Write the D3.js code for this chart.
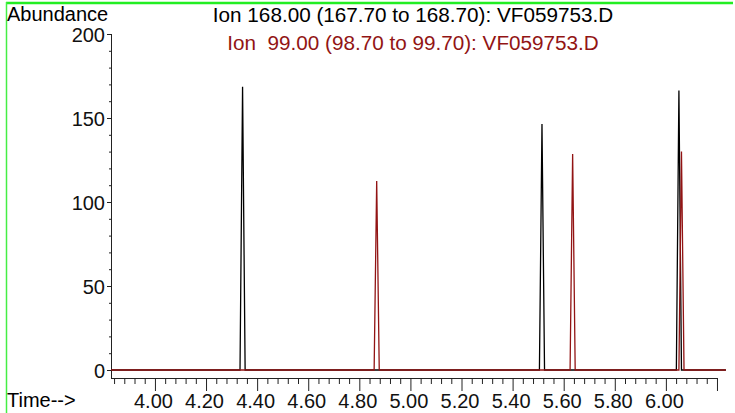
<!DOCTYPE html>
<html>
<head>
<meta charset="utf-8">
<script src="https://cdn.jsdelivr.net/npm/d3@7/dist/d3.min.js"></script>
<style>
  html, body { margin: 0; padding: 0; background: #fff; }
  svg text { font-family: "Liberation Sans", Arial, sans-serif; white-space: pre; }
</style>
</head>
<body>
<svg id="chart" width="735" height="413"></svg>
<script>
// ---- data ----
const ion168Time  = [3.828, 4.333, 4.343, 4.353, 5.505, 5.515, 5.525, 6.041, 6.051, 6.061, 6.235];
const ion168Abund = [0,     0,     168.6, 0,     0,     146.4, 0,     0,     166.3, 0,     0];
const ion99Time   = [3.828, 4.858, 4.868, 4.878, 5.625, 5.635, 5.645, 6.051, 6.061, 6.071, 6.235];
const ion99Abund  = [0,     0,     112.5, 0,     0,     128.6, 0,     0,     130.0, 0,     0];

const xMajorTicks = [4.0, 4.2, 4.4, 4.6, 4.8, 5.0, 5.2, 5.4, 5.6, 5.8, 6.0, 6.2];
const xTickLabels = ["4.00","4.20","4.40","4.60","4.80","5.00","5.20","5.40","5.60","5.80","6.00",""];
const xMinorTicks = [3.84,3.88,3.92,3.96,4.04,4.08,4.12,4.16,4.24,4.28,4.32,4.36,4.44,4.48,4.52,4.56,
                     4.64,4.68,4.72,4.76,4.84,4.88,4.92,4.96,5.04,5.08,5.12,5.16,5.24,5.28,5.32,5.36,
                     5.44,5.48,5.52,5.56,5.64,5.68,5.72,5.76,5.84,5.88,5.92,5.96,6.04,6.08,6.12,6.16];
const yMajorTicks = [0, 50, 100, 150, 200];
const yMinorTicks = [10,20,30,40,60,70,80,90,110,120,130,140,160,170,180,190];

const titleBlack = "Ion 168.00 (167.70 to 168.70): VF059753.D";
const titleRed   = "Ion  99.00 (98.70 to 99.70): VF059753.D";

// ---- layout ----
const svg = d3.select("#chart");
const x = d3.scaleLinear().domain([3.828, 6.204]).range([111, 718]);
const y = d3.scaleLinear().domain([0, 200]).range([370, 34]);
const axisY = 378;
const RED = "#921414";

// green frame
svg.append("line").attr("x1", 6).attr("x2", 733).attr("y1", 3).attr("y2", 3)
  .attr("stroke", "#22ee22").attr("stroke-width", 2.4);
svg.append("line").attr("x1", 6.5).attr("x2", 6.5).attr("y1", 2).attr("y2", 413)
  .attr("stroke", "#44ee44").attr("stroke-width", 1.5);

// x axis
const xMinor = d3.axisBottom(x).tickValues(xMinorTicks).tickSize(6).tickFormat("");
const xMajor = d3.axisBottom(x).tickValues(xMajorTicks).tickSize(13).tickPadding(3)
  .tickFormat((d, i) => xTickLabels[i]);
const gxm = svg.append("g").attr("transform", `translate(0,${axisY})`).call(xMinor);
const gx = svg.append("g").attr("transform", `translate(0,${axisY})`).call(xMajor);
[gxm, gx].forEach(g => {
  g.select(".domain").attr("stroke", "#222").attr("d", `M111,0.5H718`);
  g.selectAll(".tick line").attr("stroke", "#222");
});
gx.selectAll(".tick text").attr("font-size", 20).attr("fill", "#111")
  .attr("y", null).attr("dy", null).attr("transform", "translate(-2,30)");

// y axis
const yMinor = d3.axisLeft(y).tickValues(yMinorTicks).tickSize(2).tickFormat("");
const yMajor = d3.axisLeft(y).tickValues(yMajorTicks).tickSize(4).tickPadding(2)
  .tickFormat(d3.format("d"));
const gym = svg.append("g").attr("transform", "translate(111,0)").call(yMinor);
const gy = svg.append("g").attr("transform", "translate(111,0)").call(yMajor);
[gym, gy].forEach(g => {
  g.select(".domain").attr("stroke", "#222").attr("d", `M0.5,34V${axisY}`);
  g.selectAll(".tick line").attr("stroke", "#222");
});
gy.selectAll(".tick text").attr("font-size", 20).attr("fill", "#111").attr("dy", "0.35em");

// traces
const line = d3.line().x(d => x(d[0])).y(d => y(d[1]));
const data168 = ion168Time.map((t, i) => [t, ion168Abund[i]]);
const data99 = ion99Time.map((t, i) => [t, ion99Abund[i]]);
svg.append("path").datum(data168).attr("d", line)
  .attr("fill", "none").attr("stroke", "#000").attr("stroke-width", 1.3);
svg.append("path").datum(data99).attr("d", line)
  .attr("fill", "none").attr("stroke", RED).attr("stroke-width", 1.3);

// labels
svg.append("text").attr("x", 7).attr("y", 21).attr("font-size", 20).attr("fill", "#000").text("Abundance");
svg.append("text").attr("x", 7).attr("y", 407).attr("font-size", 20).attr("fill", "#000").text("Time-->");
svg.append("text").attr("x", 413).attr("y", 22).attr("font-size", 20.7).attr("text-anchor", "middle")
  .attr("fill", "#000").text(titleBlack);
svg.append("text").attr("x", 413).attr("y", 50).attr("font-size", 20.7).attr("text-anchor", "middle")
  .attr("fill", RED).text(titleRed);
</script>
</body>
</html>
